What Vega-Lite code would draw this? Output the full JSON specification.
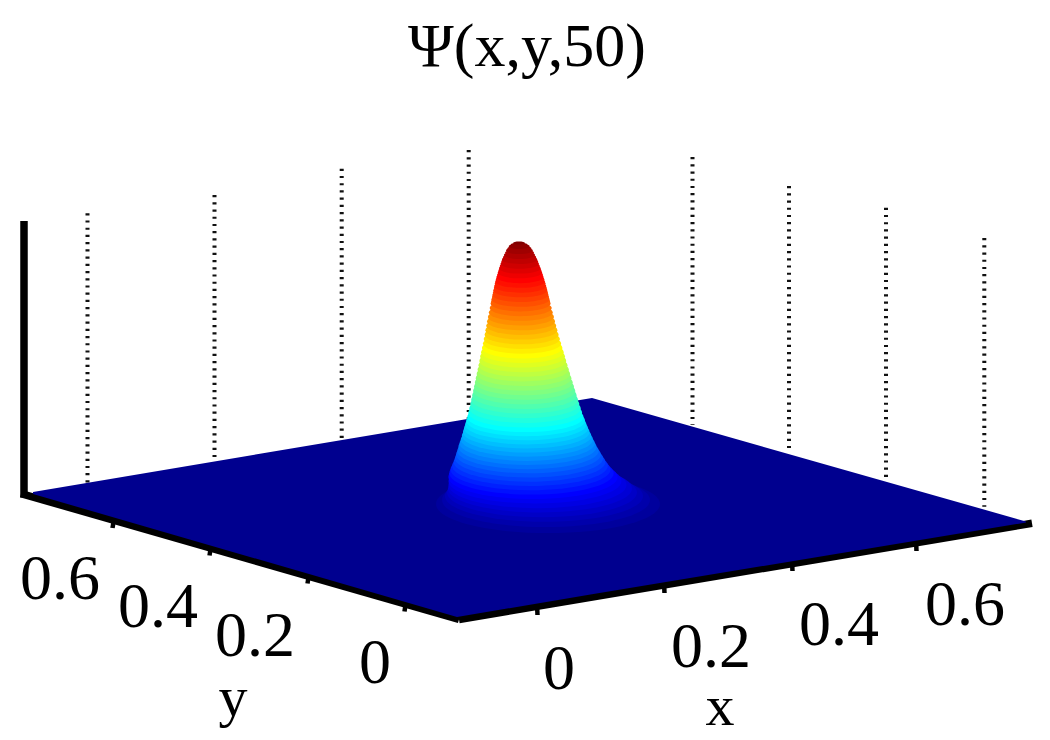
{"$schema":"https://vega.github.io/schema/vega-lite/v6.json","width":1050,"height":740,"padding":0,"autosize":{"type":"fit","contains":"padding"},"background":"white","config":{"view":{"stroke":null}},
"datasets":{
"walls":[{"u":87.5,"top":213.2,"base":482.8},{"u":214.5,"top":195,"base":461.5},{"u":341.7,"top":168.7,"base":440},{"u":468.7,"top":150,"base":419},{"u":692.5,"top":157,"base":425},{"u":789,"top":186,"base":451.7},{"u":886,"top":207.7,"base":478},{"u":984.3,"top":238,"base":506.7}],
"edges":[{"u":24,"v":221,"u2":24,"v2":497.5,"part":"z"},{"u":21,"v":493.6,"u2":459,"v2":619.5,"part":"y"},{"u":459,"v":619.5,"u2":1032,"v2":523.3,"part":"x"}],
"ticks":[{"u":114,"v":519,"u2":112.5,"v2":528},{"u":211,"v":546,"u2":209.5,"v2":555.5},{"u":309,"v":574,"u2":307.5,"v2":583.5},{"u":406,"v":601,"u2":404.5,"v2":611.5},{"u":537,"v":604,"u2":537.5,"v2":615},{"u":664,"v":583,"u2":664.5,"v2":593},{"u":792,"v":561,"u2":792.5,"v2":571},{"u":916,"v":541,"u2":916.5,"v2":551}],
"floor":[{"u":33,"v":492,"v2":494},{"u":457,"v":420.7,"v2":617},{"u":592,"v":398,"v2":594.3},{"u":1026,"v":521.5,"v2":522.5}],
"surface":[
{"z":0.0156,"u":548,"v":504,"a":112},{"z":0.0313,"u":546,"v":500,"a":104},{"z":0.0469,"u":544,"v":496,"a":99},{"z":0.0625,"u":542,"v":492.5,"a":95},{"z":0.0781,"u":540,"v":488.5,"a":92},{"z":0.0938,"u":537.5,"v":485,"a":89},{"z":0.1094,"u":535,"v":481,"a":86.5},{"z":0.125,"u":533,"v":477,"a":84.6},
{"z":0.1406,"u":531.5,"v":473.2,"a":82.2},{"z":0.1563,"u":530.5,"v":469.5,"a":80},{"z":0.1719,"u":530,"v":465.8,"a":77.9},{"z":0.1875,"u":529.5,"v":462,"a":75.9},{"z":0.2031,"u":529,"v":458.3,"a":74.1},{"z":0.2188,"u":528.5,"v":454.5,"a":72.4},{"z":0.2344,"u":528,"v":450.8,"a":70.7},{"z":0.25,"u":527.5,"v":447,"a":69.1},
{"z":0.2656,"u":527.2,"v":443.3,"a":67.6},{"z":0.2813,"u":526.9,"v":439.5,"a":66.1},{"z":0.2969,"u":526.6,"v":435.8,"a":64.7},{"z":0.3125,"u":526.3,"v":432,"a":63.3},{"z":0.3281,"u":526,"v":428.3,"a":62},{"z":0.3438,"u":525.8,"v":424.5,"a":60.6},{"z":0.3594,"u":525.6,"v":420.8,"a":59.4},{"z":0.375,"u":525.4,"v":417,"a":58.1},
{"z":0.3906,"u":525.2,"v":412.7,"a":56.9},{"z":0.4063,"u":525,"v":408.4,"a":55.7},{"z":0.4219,"u":524.8,"v":404.1,"a":54.5},{"z":0.4375,"u":524.6,"v":399.8,"a":53.4},{"z":0.4531,"u":524.4,"v":395.4,"a":52.2},{"z":0.4688,"u":524.2,"v":391.1,"a":51.1},{"z":0.4844,"u":524,"v":386.8,"a":50},{"z":0.5,"u":523.8,"v":382.5,"a":48.9},
{"z":0.5156,"u":523.6,"v":378.2,"a":47.8},{"z":0.5313,"u":523.4,"v":373.9,"a":46.7},{"z":0.5469,"u":523.2,"v":369.6,"a":45.6},{"z":0.5625,"u":523,"v":365.2,"a":44.5},{"z":0.5781,"u":522.8,"v":360.9,"a":43.4},{"z":0.5938,"u":522.6,"v":356.6,"a":42.4},{"z":0.6094,"u":522.4,"v":352.3,"a":41.3},{"z":0.625,"u":522.2,"v":348,"a":40.2},
{"z":0.6406,"u":522,"v":343.6,"a":39.1},{"z":0.6563,"u":521.8,"v":339.1,"a":38.1},{"z":0.6719,"u":521.6,"v":334.7,"a":37},{"z":0.6875,"u":521.4,"v":330.2,"a":36},{"z":0.7031,"u":521.2,"v":325.8,"a":35},{"z":0.7188,"u":521,"v":321.4,"a":34},{"z":0.7344,"u":520.9,"v":316.9,"a":33},{"z":0.75,"u":520.8,"v":312.5,"a":32},
{"z":0.7656,"u":520.7,"v":308.1,"a":31},{"z":0.7813,"u":520.6,"v":303.6,"a":30},{"z":0.7813,"u":520.6,"v":301.4,"a":29.5},{"z":0.7969,"u":520.5,"v":299.2,"a":29},{"z":0.7969,"u":520.5,"v":297,"a":28.5},{"z":0.8125,"u":520.4,"v":294.8,"a":28},{"z":0.8125,"u":520.4,"v":292.5,"a":27.5},{"z":0.8281,"u":520.3,"v":290.3,"a":27},{"z":0.8281,"u":520.3,"v":288.1,"a":26.5},{"z":0.8438,"u":520.2,"v":285.9,"a":26},{"z":0.8438,"u":520.2,"v":283.6,"a":25.4},{"z":0.8594,"u":520.1,"v":281.4,"a":24.8},{"z":0.8594,"u":520.1,"v":279.2,"a":24.2},{"z":0.875,"u":520,"v":277,"a":23.6},{"z":0.875,"u":520,"v":274.8,"a":22.9},
{"z":0.8906,"u":519.9,"v":272.6,"a":22.2},{"z":0.8906,"u":519.9,"v":270.4,"a":21.5},{"z":0.9063,"u":519.8,"v":268.2,"a":20.8},{"z":0.9063,"u":519.8,"v":266,"a":20},{"z":0.9219,"u":519.7,"v":263.8,"a":19.2},{"z":0.9219,"u":519.7,"v":261.6,"a":18.4},{"z":0.9375,"u":519.6,"v":259.4,"a":17.6},{"z":0.9375,"u":519.6,"v":257.2,"a":16.6},{"z":0.9531,"u":519.5,"v":255,"a":15.6},{"z":0.9531,"u":519.5,"v":252.8,"a":14.5},{"z":0.9688,"u":519.4,"v":250.6,"a":13.4},{"z":0.9688,"u":519.4,"v":248.4,"a":12},{"z":0.9844,"u":519.2,"v":246.2,"a":10.5},{"z":0.9844,"u":519.1,"v":244.6,"a":8.3},{"z":1,"u":519,"v":243,"a":6}],
"title":[{"u":527,"v":66,"t":"Ψ(x,y,50)"}],
"ticklabels":[{"u":60,"v":599,"t":"0.6"},{"u":158,"v":627,"t":"0.4"},{"u":255,"v":655.7,"t":"0.2"},{"u":375,"v":682.7,"t":"0"},{"u":559,"v":689,"t":"0"},{"u":711,"v":666.7,"t":"0.2"},{"u":839,"v":645,"t":"0.4"},{"u":965,"v":625,"t":"0.6"}],
"axislabels":[{"u":233,"v":715.5,"t":"y"},{"u":720,"v":725,"t":"x"}]
},
"layer":[
{"data":{"name":"walls"},"mark":{"type":"rule","color":"#111111","strokeWidth":4,"strokeDash":[2.2,5.02]},"encoding":{"x":{"field":"u","type":"quantitative","scale":{"domain":[0,1050],"nice":false,"zero":false},"axis":null},"y":{"field":"top","type":"quantitative","scale":{"domain":[0,740],"reverse":true,"nice":false,"zero":false},"axis":null},"y2":{"field":"base"}}},
{"data":{"name":"edges"},"mark":{"type":"rule","color":"#000000","strokeWidth":7.5},"encoding":{"x":{"field":"u","type":"quantitative"},"y":{"field":"v","type":"quantitative"},"x2":{"field":"u2"},"y2":{"field":"v2"}}},
{"data":{"name":"ticks"},"mark":{"type":"rule","color":"#000000","strokeWidth":4.5},"encoding":{"x":{"field":"u","type":"quantitative"},"y":{"field":"v","type":"quantitative"},"x2":{"field":"u2"},"y2":{"field":"v2"}}},
{"data":{"name":"floor"},"mark":{"type":"area","color":"#00008f","interpolate":"linear"},"encoding":{"x":{"field":"u","type":"quantitative"},"y":{"field":"v","type":"quantitative"},"y2":{"field":"v2"}}},
{"data":{"name":"surface"},"mark":{"type":"point","shape":"M-1,0A1,0.26,0,1,1,1,0A1,0.26,0,1,1,-1,0Z","filled":true,"opacity":1,"strokeWidth":0},"encoding":{"x":{"field":"u","type":"quantitative"},"y":{"field":"v","type":"quantitative"},"size":{"field":"a","type":"quantitative","legend":null,"scale":{"type":"pow","exponent":2,"domain":[0,100],"range":[0,40000]}},"color":{"field":"z","type":"quantitative","legend":null,"scale":{"domain":[0,0.125,0.375,0.625,0.875,1],"range":["#00008f","#0000ff","#00ffff","#ffff00","#ff0000","#800000"],"interpolate":"rgb"}}}},
{"data":{"name":"title"},"mark":{"type":"text","font":"Liberation Serif","align":"center","baseline":"alphabetic","color":"#000000","fontSize":62},"encoding":{"x":{"field":"u","type":"quantitative"},"y":{"field":"v","type":"quantitative"},"text":{"field":"t","type":"nominal"}}},
{"data":{"name":"ticklabels"},"mark":{"type":"text","font":"Liberation Serif","align":"center","baseline":"alphabetic","color":"#000000","fontSize":64},"encoding":{"x":{"field":"u","type":"quantitative"},"y":{"field":"v","type":"quantitative"},"text":{"field":"t","type":"nominal"}}},
{"data":{"name":"axislabels"},"mark":{"type":"text","font":"Liberation Serif","align":"center","baseline":"alphabetic","color":"#000000","fontSize":58},"encoding":{"x":{"field":"u","type":"quantitative"},"y":{"field":"v","type":"quantitative"},"text":{"field":"t","type":"nominal"}}}
],
"resolve":{"scale":{"color":"independent"}}}
